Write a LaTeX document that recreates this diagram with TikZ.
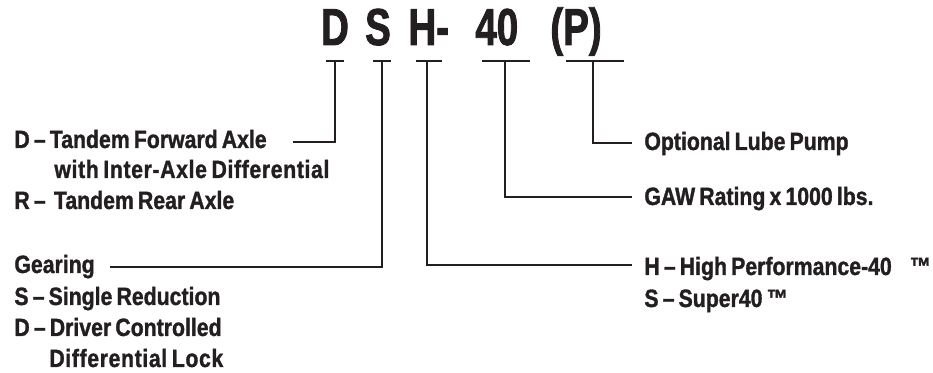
\documentclass[tikz,border=0pt]{standalone}
\usepackage{fontspec}
\newfontfamily\labelfont{Liberation Sans Bold}[FakeStretch=0.85, FakeBold=1.2, WordSpace=0.7]
\newfontfamily\titlefont{Liberation Sans Bold}[FakeStretch=0.74, FakeBold=1.6]
\usepackage{tikz}
\usetikzlibrary{positioning, calc}
\definecolor{ink}{HTML}{231F20}

\tikzset{
  lead/.style={line width=1.1pt, color=ink},
  label/.style={anchor=base west, inner sep=0pt, text=ink, font=\labelfont\fontsize{12.5}{13}\selectfont},
  wide/.style={font=\labelfont\fontsize{12.5}{13}\selectfont\addfontfeature{LetterSpace=2.5}},
  code/.style={anchor=base west, inner sep=0pt, text=ink, font=\titlefont\fontsize{26}{28}\selectfont}
}

\begin{document}
\begin{tikzpicture}[x=0.5pt, y=-0.5pt]
  \useasboundingbox (0, 0) rectangle (933, 373);

  % the code letters
  \node [code, anchor=base] (cD) at (335, 45) {D};
  \node [code, anchor=base] (cS) at (378, 45) {S};
  \node [code] (cH) at (408, 45) {H-};
  \node [code] (c40) at (475, 45) {40};
  \node [code] (cP) at (550, 45) {(P)};

  % bars under the letters
  \foreach \a/\b in {326/344, 373/391, 416/442, 482/530, 566/624}
    \draw [lead] (\a, 61) -- (\b, 61);

  % left side
  \node [label] (lD1) at (14, 148) {D – Tandem Forward Axle};
  \node [label, wide] (lD2) at (54, 178) {with Inter-Axle Differential};
  \node [label] (lR) at (14, 209) {R –\ \ Tandem Rear Axle};
  \node [label] (lGear) at (14, 273) {Gearing};
  \node [label] (lS) at (14, 305) {S – Single Reduction};
  \node [label] (lDr1) at (14, 336) {D – Driver Controlled};
  \node [label, wide] (lDr2) at (49, 367) {Differential Lock};

  % right side
  \node [label] (rP) at (644, 150) {Optional Lube Pump};
  \node [label] (rGAW) at (644, 205) {GAW Rating x 1000 lbs.};
  \node [label] (rH) at (644, 275) {H – High Performance-40\hspace{9pt}™};
  \node [label] (rS) at (644, 307) {S – Super40 ™};

  % leads
  \coordinate (sD) at (335, 61);
  \coordinate (sS) at (382, 61);
  \coordinate (sH) at (427, 61);
  \coordinate (s40) at (505, 61);
  \coordinate (sP) at (593, 61);
  \coordinate (eD) at (293, 142);
  \coordinate (eS) at (110, 267);
  \coordinate (eH) at (632, 265);
  \coordinate (e40) at (632, 197);
  \coordinate (eP) at (632, 143);

  \draw [lead] (sD) |- (eD);
  \draw [lead] (sS) |- (eS);
  \draw [lead] (sH) |- (eH);
  \draw [lead] (s40) |- (e40);
  \draw [lead] (sP) |- (eP);

\end{tikzpicture}
\end{document}
